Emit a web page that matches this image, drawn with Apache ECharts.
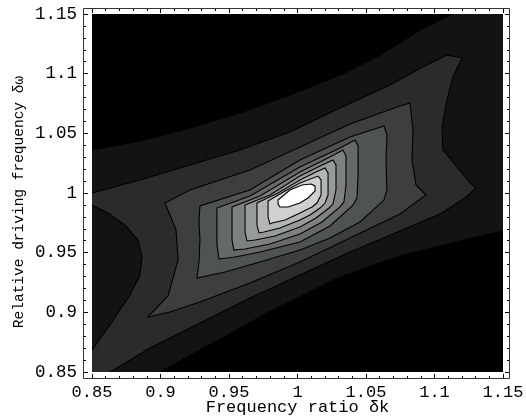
<!DOCTYPE html>
<html><head><meta charset="utf-8">
<script src="https://cdn.jsdelivr.net/npm/echarts@6/dist/echarts.min.js"></script>
<style>html,body{margin:0;padding:0;background:#fff}#c{width:526px;height:416px}</style>
</head><body><div id="c"></div>
<script>
// ---- axis ticks ----
const xTicks = [0.85, 0.9, 0.95, 1, 1.05, 1.1, 1.15];
const xTickLabels = ['0.85', '0.9', '0.95', '1', '1.05', '1.1', '1.15'];
const yTicks = [0.85, 0.9, 0.95, 1, 1.05, 1.1, 1.15];
const yTickLabels = ['0.85', '0.9', '0.95', '1', '1.05', '1.1', '1.15'];

// ---- contour boundaries (δk, δω) ----
const plotBackground = [[0.84,0.84],[1.16,0.84],[1.16,1.16],[0.84,1.16]];
const blackTopLeft = [[0.84,1.16],[0.84,1.036],[0.85,1.036],[0.885,1.0436],[0.9215,1.0545],[0.958,1.067],[0.9945,1.0821],[1.031,1.0989],[1.0602,1.1157],[1.0894,1.1366],[1.1128,1.15],[1.12,1.16]];
const blackBottomRight = [[0.895,0.84],[0.8996,0.85],[0.9303,0.8693],[0.9544,0.8844],[0.9792,0.9003],[1.0033,0.9137],[1.0281,0.9279],[1.0529,0.9388],[1.077,0.948],[1.1018,0.9548],[1.131,0.9631],[1.15,0.9682],[1.16,0.97],[1.16,0.84]];
const level2Band = [[0.84,1.0],[0.85,1.0],[0.885,1.0109],[0.9215,1.0235],[0.958,1.036],[0.9945,1.0511],[1.031,1.0712],[1.0675,1.0905],[1.0916,1.1056],[1.1091,1.1157],[1.1201,1.1131],[1.1135,1.0972],[1.1091,1.078],[1.1055,1.0553],[1.1062,1.036],[1.1164,1.0218],[1.1259,1.0084],[1.1303,1.0042],[1.1223,0.9958],[1.104,0.9824],[1.0748,0.9682],[1.0383,0.9506],[1.0018,0.9313],[0.9653,0.912],[0.9288,0.8911],[0.8923,0.8701],[0.8631,0.85],[0.86,0.84],[0.84,0.84]];
const leftLobe = [[0.84,0.99],[0.85,0.9899],[0.8617,0.9832],[0.8741,0.9732],[0.8836,0.9606],[0.8865,0.9464],[0.885,0.9313],[0.8777,0.9145],[0.8646,0.8919],[0.85,0.8684],[0.84,0.868]];
const level3 = [[0.8909,0.8961],[0.9055,0.9137],[0.9128,0.9439],[0.9113,0.969],[0.9033,0.9916],[0.9215,1.0025],[0.9653,1.0193],[1.0018,1.0386],[1.0383,1.0578],[1.0748,1.0729],[1.0821,1.0754],[1.0843,1.0528],[1.0836,1.0277],[1.0865,1.0067],[1.0938,0.9983],[1.0748,0.9824],[1.0383,0.9623],[1.0018,0.9422],[0.9653,0.9246],[0.9288,0.9087],[0.9069,0.9003]];
const level4 = [[0.9266,0.9288],[0.9281,0.9422],[0.9288,0.9606],[0.9281,0.9757],[0.9288,0.9891],[0.9653,1.0025],[1.0018,1.0277],[1.0383,1.0469],[1.0631,1.0562],[1.0653,1.0486],[1.0646,1.0277],[1.0653,1.0025],[1.0631,0.9941],[1.0456,0.9757],[1.0237,0.9623],[1.0018,0.9522],[0.9726,0.9422],[0.9471,0.9338]];
const level5 = [[0.9412,0.9874],[0.9653,0.9975],[1.0018,1.0218],[1.031,1.0377],[1.042,1.0444],[1.0442,1.0394],[1.0442,1.0151],[1.0434,0.9958],[1.0405,0.9899],[1.0237,0.9724],[1.0018,0.9589],[0.9726,0.9506],[0.9544,0.9464],[0.9427,0.9447],[0.9412,0.9564],[0.9412,0.9732],[0.9412,0.9841]];
const level6 = [[0.9522,0.9883],[0.9726,0.9975],[1.0018,1.0176],[1.0237,1.0302],[1.0332,1.036],[1.0354,1.031],[1.0354,1.0067],[1.0339,0.9925],[1.031,0.9883],[1.0179,0.9757],[1.0018,0.9656],[0.9799,0.9573],[0.9617,0.9531],[0.9536,0.9522],[0.9522,0.9606],[0.9522,0.9774],[0.9522,0.9858]];
const level7 = [[0.9617,0.9899],[0.9799,0.9983],[1.0018,1.0142],[1.0179,1.0235],[1.0259,1.0277],[1.0281,1.0235],[1.0281,1.0025],[1.0259,0.9908],[1.023,0.9874],[1.0135,0.9791],[1.0018,0.9715],[0.9836,0.964],[0.969,0.9606],[0.9631,0.9598],[0.9617,0.9673],[0.9617,0.9816],[0.9617,0.9874]];
const level8 = [[0.9704,0.9916],[0.9858,1.0],[1.0018,1.0109],[1.0135,1.0176],[1.0201,1.021],[1.0223,1.0168],[1.0223,0.9983],[1.0201,0.9916],[1.0164,0.9874],[1.0091,0.9816],[1.0018,0.9774],[0.9872,0.9707],[0.9755,0.9673],[0.9719,0.9665],[0.9704,0.9732],[0.9704,0.9858]];
const level9 = [[0.9785,0.9933],[0.9909,1.0017],[1.0018,1.0084],[1.015,1.0142],[1.0172,1.0109],[1.0172,0.9983],[1.0142,0.9916],[1.0106,0.9883],[1.0018,0.9832],[0.9909,0.9774],[0.9814,0.9749],[0.9799,0.974],[0.9785,0.9799],[0.9785,0.9883]];
const level10 = [[0.9858,0.9941],[0.9945,1.0025],[1.0033,1.0067],[1.0099,1.0075],[1.0128,1.0059],[1.0128,1.0017],[1.0077,0.9958],[1.0018,0.9916],[0.9931,0.9883],[0.9872,0.9883],[0.9858,0.9908]];

const grays = ['#000000','#131313','#2a2c2a','#3c3f3c','#505450','#666a66','#7e827e','#989c98','#b3b6b3','#cfd1cf','#ffffff'];

const layers = [
  {pts: plotBackground, g: 1, line: false},
  {pts: blackTopLeft, g: 0, line: true},
  {pts: blackBottomRight, g: 0, line: true},
  {pts: level2Band, g: 2, line: true},
  {pts: leftLobe, g: 1, line: true},
  {pts: level3, g: 3, line: true},
  {pts: level4, g: 4, line: true},
  {pts: level5, g: 5, line: true},
  {pts: level6, g: 6, line: true},
  {pts: level7, g: 7, line: true},
  {pts: level8, g: 8, line: true},
  {pts: level9, g: 9, line: true},
  {pts: level10, g: 10, line: true}
];

function tickFmt(ticks, labels) {
  return function (v) {
    const i = ticks.findIndex(t => Math.abs(t - v) < 1e-6);
    return i >= 0 ? labels[i] : '';
  };
}
const FONT = "'Liberation Mono', 'Courier New', Courier, monospace";
const tickStyle = {show: true, inside: true, length: 5, lineStyle: {color: '#000', width: 1}};
const minorStyle = {show: true, splitNumber: 5, length: 3, lineStyle: {color: '#000', width: 1}};

const chart = echarts.init(document.getElementById('c'), null, {renderer: 'canvas'});
chart.setOption({
  animation: false,
  backgroundColor: '#fff',
  grid: {left: 92, right: 23, top: 14, bottom: 44, containLabel: false, outerBoundsMode: 'none'},
  xAxis: [
    {type: 'value', position: 'bottom', min: 0.85, max: 1.15, interval: 0.05, offset: 7,
     axisLine: {show: false}, axisTick: tickStyle, minorTick: minorStyle, splitLine: {show: false},
     axisLabel: {formatter: tickFmt(xTicks, xTickLabels), fontFamily: FONT, fontSize: 17, color: '#000', margin: 5},
     name: 'Frequency ratio δk', nameLocation: 'middle', nameGap: 20, nameMoveOverlap: false,
     nameTextStyle: {fontFamily: FONT, fontSize: 17, color: '#000'}},
    {type: 'value', position: 'top', min: 0.85, max: 1.15, interval: 0.05, offset: 6,
     axisLine: {show: false}, axisTick: tickStyle, minorTick: minorStyle, splitLine: {show: false},
     axisLabel: {show: false}}
  ],
  yAxis: [
    {type: 'value', position: 'left', min: 0.85, max: 1.15, interval: 0.05, offset: 9,
     axisLine: {show: false}, axisTick: tickStyle, minorTick: minorStyle, splitLine: {show: false},
     axisLabel: {formatter: tickFmt(yTicks, yTickLabels), fontFamily: FONT, fontSize: 17.5, color: '#000', margin: 6},
     name: 'Relative driving frequency δω', nameLocation: 'middle', nameGap: 56, nameMoveOverlap: false,
     nameTextStyle: {fontFamily: FONT, fontSize: 14.5, color: '#000', padding: [0, 18, 0, 0]}},
    {type: 'value', position: 'right', min: 0.85, max: 1.15, interval: 0.05, offset: 7,
     axisLine: {show: false}, axisTick: tickStyle, minorTick: minorStyle, splitLine: {show: false},
     axisLabel: {show: false}}
  ],
  graphic: [{type: 'rect', shape: {x: 83.5, y: 8.5, width: 426, height: 370},
             style: {fill: null, stroke: '#333', lineWidth: 1}, z: 100}],
  series: [{
    type: 'custom',
    clip: true,
    coordinateSystem: 'cartesian2d',
    data: layers.map((l, i) => [xTicks[0], yTicks[0], i]),
    encode: {x: 0, y: 1},
    renderItem: function (params, api) {
      const L = layers[params.dataIndex];
      const pts = L.pts.map(p => api.coord(p));
      return {type: 'polygon', shape: {points: pts},
              style: {fill: grays[L.g], stroke: L.line ? '#000' : null, lineWidth: 1.1}};
    }
  }]
});
</script></body></html>
